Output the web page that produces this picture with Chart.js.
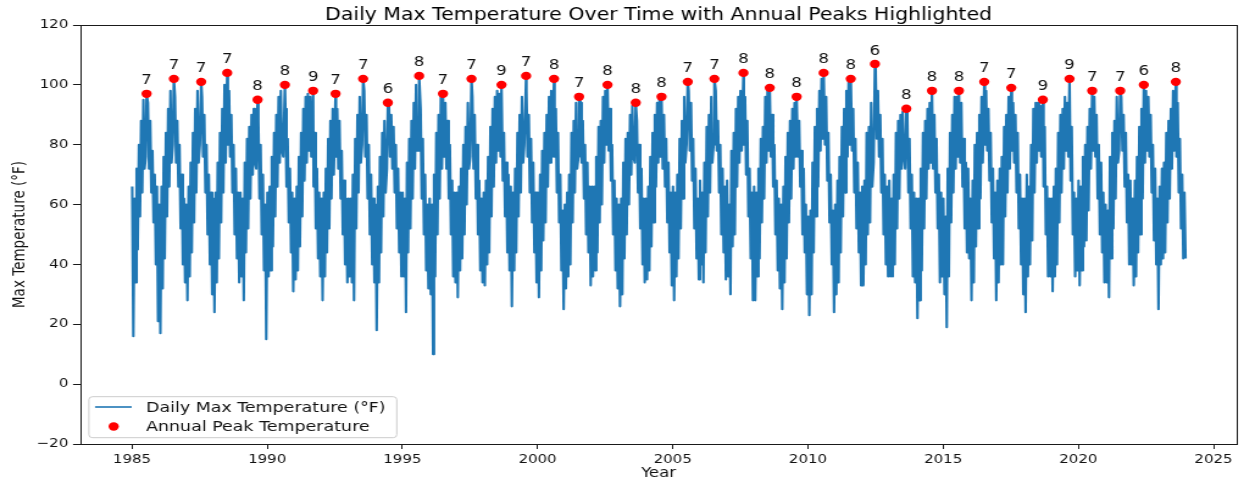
<!DOCTYPE html>
<html>
<head>
<meta charset="utf-8">
<title>Daily Max Temperature</title>
<script src="https://cdn.jsdelivr.net/npm/chart.js@4.4.1/dist/chart.umd.min.js"></script>
<style>
  html, body { margin: 0; padding: 0; background: #ffffff; overflow: hidden; }
  /* the figure is laid out on a narrower canvas and widened horizontally */
  #wrap { width: 1020px; height: 484px; transform: scaleX(1.2196); transform-origin: 0 0; }
  canvas { display: block; }
</style>
</head>
<body>
<div id="wrap"><canvas id="chart" width="1020" height="484"></canvas></div>
<script>
// ---- data -------------------------------------------------------------
const years = [1985, 1986, 1987, 1988, 1989, 1990, 1991, 1992, 1993, 1994,
               1995, 1996, 1997, 1998, 1999, 2000, 2001, 2002, 2003, 2004,
               2005, 2006, 2007, 2008, 2009, 2010, 2011, 2012, 2013, 2014,
               2015, 2016, 2017, 2018, 2019, 2020, 2021, 2022, 2023];

// highest daily max within each month (Jan..Dec), °F
const monthlyHigh = [
  [66, 62, 72, 80, 88, 95, 97, 94, 88, 78, 70, 66],
  [60, 66, 76, 84, 92, 98, 102, 96, 88, 80, 70, 62],
  [60, 66, 74, 84, 92, 98, 101, 96, 90, 80, 70, 64],
  [62, 64, 74, 84, 92, 100, 104, 98, 90, 80, 72, 64],
  [64, 62, 74, 82, 86, 90, 92, 95, 88, 80, 70, 60],
  [64, 66, 76, 84, 90, 96, 98, 100, 92, 82, 72, 64],
  [62, 66, 76, 84, 92, 96, 97, 96, 98, 84, 72, 64],
  [62, 64, 72, 82, 88, 92, 97, 92, 88, 78, 68, 62],
  [62, 62, 70, 82, 90, 96, 102, 98, 90, 80, 70, 62],
  [60, 66, 76, 84, 88, 94, 93, 90, 86, 80, 72, 64],
  [64, 62, 74, 82, 88, 94, 100, 103, 92, 82, 70, 60],
  [62, 60, 70, 84, 90, 96, 97, 94, 88, 80, 68, 64],
  [64, 66, 72, 80, 86, 94, 102, 96, 90, 80, 68, 62],
  [64, 68, 76, 86, 92, 96, 98, 97, 100, 84, 74, 70],
  [66, 64, 72, 84, 90, 96, 103, 98, 90, 82, 74, 64],
  [64, 70, 78, 84, 90, 96, 98, 102, 92, 84, 70, 58],
  [60, 64, 70, 84, 88, 94, 96, 94, 88, 80, 74, 66],
  [66, 66, 76, 86, 88, 96, 98, 100, 92, 80, 68, 62],
  [60, 62, 74, 82, 84, 90, 93, 94, 88, 80, 72, 62],
  [62, 66, 76, 84, 90, 94, 95, 96, 90, 82, 74, 64],
  [66, 64, 70, 82, 88, 96, 101, 98, 94, 82, 72, 62],
  [68, 64, 74, 86, 90, 96, 102, 98, 88, 80, 72, 66],
  [68, 60, 78, 84, 92, 96, 98, 104, 96, 88, 72, 64],
  [66, 64, 72, 82, 86, 96, 98, 99, 90, 80, 68, 62],
  [60, 66, 76, 84, 88, 92, 94, 96, 88, 78, 72, 60],
  [56, 58, 74, 86, 92, 98, 102, 104, 96, 84, 70, 58],
  [60, 68, 76, 86, 92, 98, 101, 102, 92, 82, 74, 64],
  [66, 68, 84, 86, 94, 107, 104, 98, 90, 82, 70, 66],
  [68, 62, 70, 84, 88, 90, 91, 92, 90, 82, 70, 64],
  [62, 62, 72, 84, 88, 92, 94, 98, 90, 82, 70, 64],
  [62, 56, 72, 84, 90, 96, 96, 98, 94, 82, 74, 72],
  [62, 68, 80, 84, 90, 96, 101, 98, 92, 84, 72, 64],
  [68, 72, 76, 86, 90, 96, 99, 94, 90, 84, 70, 62],
  [62, 70, 66, 80, 92, 94, 94, 93, 95, 86, 66, 62],
  [62, 66, 72, 84, 90, 92, 96, 94, 102, 86, 64, 62],
  [68, 66, 76, 80, 86, 92, 98, 96, 90, 80, 74, 64],
  [60, 58, 76, 84, 88, 96, 98, 96, 90, 84, 70, 68],
  [62, 68, 76, 86, 92, 100, 98, 96, 90, 80, 72, 62],
  [66, 72, 74, 84, 88, 92, 98, 101, 94, 82, 70, 64]
];

// lowest daily max within each month (Jan..Dec), °F
const monthlyLow = [
  [16, 34, 45, 56, 64, 72, 76, 72, 64, 54, 40, 21],
  [17, 32, 42, 56, 66, 74, 80, 74, 66, 52, 40, 34],
  [28, 36, 44, 54, 64, 74, 80, 76, 64, 50, 40, 30],
  [24, 34, 42, 54, 64, 74, 80, 76, 64, 50, 42, 34],
  [36, 28, 44, 52, 62, 70, 74, 72, 62, 50, 38, 15],
  [36, 38, 46, 56, 66, 74, 78, 76, 66, 54, 44, 31],
  [35, 38, 46, 56, 68, 74, 78, 76, 66, 52, 42, 36],
  [28, 36, 44, 52, 62, 70, 76, 72, 62, 50, 40, 34],
  [36, 34, 28, 52, 64, 74, 80, 76, 62, 50, 40, 34],
  [18, 34, 44, 56, 64, 72, 76, 72, 64, 52, 44, 36],
  [36, 24, 44, 52, 62, 72, 78, 78, 62, 50, 38, 32],
  [30, 10, 36, 50, 62, 72, 76, 72, 62, 50, 36, 34],
  [29, 38, 42, 50, 60, 72, 76, 72, 62, 50, 38, 34],
  [33, 40, 44, 56, 66, 74, 78, 76, 68, 56, 44, 38],
  [26, 38, 44, 56, 64, 74, 80, 76, 64, 54, 44, 34],
  [29, 38, 48, 54, 66, 74, 76, 76, 64, 54, 38, 25],
  [32, 36, 40, 54, 64, 72, 76, 74, 62, 50, 44, 33],
  [36, 38, 44, 54, 60, 74, 80, 78, 68, 50, 38, 32],
  [26, 30, 42, 50, 60, 70, 76, 74, 64, 52, 40, 34],
  [35, 38, 46, 54, 66, 74, 76, 72, 66, 54, 44, 33],
  [28, 36, 42, 52, 62, 74, 80, 78, 68, 52, 42, 35],
  [40, 34, 44, 56, 64, 74, 80, 78, 64, 50, 44, 35],
  [36, 30, 46, 50, 66, 74, 78, 80, 70, 56, 42, 28],
  [28, 36, 42, 54, 62, 74, 78, 76, 66, 50, 38, 32],
  [25, 34, 42, 54, 62, 72, 76, 76, 66, 50, 44, 30],
  [23, 30, 44, 56, 66, 78, 82, 80, 68, 54, 40, 24],
  [30, 34, 44, 56, 64, 76, 80, 78, 64, 52, 44, 33],
  [33, 40, 50, 54, 66, 74, 82, 76, 64, 50, 40, 36],
  [36, 36, 40, 52, 62, 72, 76, 72, 64, 52, 36, 34],
  [22, 28, 38, 52, 62, 72, 74, 72, 64, 52, 34, 36],
  [30, 19, 36, 54, 64, 72, 76, 74, 66, 52, 44, 42],
  [28, 34, 46, 52, 62, 74, 80, 78, 68, 54, 42, 28],
  [34, 40, 40, 56, 64, 72, 78, 74, 64, 52, 40, 30],
  [24, 36, 40, 48, 64, 74, 78, 76, 66, 50, 36, 36],
  [31, 36, 40, 54, 64, 72, 78, 76, 68, 50, 36, 38],
  [33, 38, 46, 48, 58, 72, 78, 76, 62, 50, 44, 34],
  [34, 29, 42, 52, 62, 74, 78, 78, 66, 54, 40, 40],
  [33, 36, 44, 50, 62, 74, 78, 76, 64, 48, 40, 25],
  [40, 42, 44, 54, 62, 72, 78, 76, 64, 52, 42, 42]
];

// hottest day of each year
const peakTemp  = [97, 102, 101, 104, 95, 100, 98, 97, 102, 94,
                   103, 97, 102, 100, 103, 102, 96, 100, 94, 96,
                   101, 102, 104, 99, 96, 104, 102, 107, 92, 98,
                   98, 101, 99, 95, 102, 98, 98, 100, 101];
const peakMonth = [7, 7, 7, 7, 8, 8, 9, 7, 7, 6,
                   8, 7, 7, 9, 7, 8, 7, 8, 8, 8,
                   7, 7, 8, 8, 8, 8, 8, 6, 8, 8,
                   8, 7, 7, 9, 9, 7, 7, 6, 8];
const peakDay   = [17, 20, 24, 10, 24, 28, 13, 13, 20, 19,
                   15, 3, 23, 1, 30, 11, 15, 3, 19, 2,
                   22, 17, 13, 3, 1, 1, 2, 24, 22, 3,
                   2, 10, 10, 9, 4, 7, 20, 4, 10];

const xTicks = [1985, 1990, 1995, 2000, 2005, 2010, 2015, 2020, 2025];
const yTicks = [-20, 0, 20, 40, 60, 80, 100, 120];

// ---- series construction ----------------------------------------------
const daysBefore = [0, 31, 59, 90, 120, 151, 181, 212, 243, 273, 304, 334];
function decimalYear(y, m, d) { return y + (daysBefore[m - 1] + d - 1) / 365; }

const dailyPoints = [];
years.forEach((yr, i) => {
  for (let m = 1; m <= 12; m++) {
    const isPeak = m === peakMonth[i];
    const hiDay = isPeak ? peakDay[i] : 4;
    const loDay = isPeak && peakDay[i] > 14 ? 6 : 19;
    const pair = [
      { x: decimalYear(yr, m, hiDay), y: isPeak ? peakTemp[i] : monthlyHigh[i][m - 1] },
      { x: decimalYear(yr, m, loDay), y: monthlyLow[i][m - 1] }
    ];
    pair.sort((a, b) => a.x - b.x);
    dailyPoints.push(pair[0], pair[1]);
  }
});

const peakPoints = years.map((yr, i) => ({ x: decimalYear(yr, peakMonth[i], peakDay[i]), y: peakTemp[i] }));

// ---- drawing helpers ---------------------------------------------------
const INK = '#111111';
const SPINE = '#1a1a1a';
Chart.defaults.font.family = "'DejaVu Sans', sans-serif";
Chart.defaults.color = INK;

const spinesPlugin = {
  id: 'spines',
  afterDatasetsDraw(chart) {
    const { ctx, chartArea: a } = chart;
    ctx.save();
    ctx.strokeStyle = SPINE;
    ctx.lineWidth = 1;
    ctx.strokeRect(Math.round(a.left) + 0.5, Math.round(a.top) + 0.5,
                   Math.round(a.right - a.left) - 1, Math.round(a.bottom - a.top));
    ctx.restore();
  }
};

const peakLabelPlugin = {
  id: 'peakLabels',
  afterDatasetsDraw(chart) {
    const meta = chart.getDatasetMeta(1);
    const ctx = chart.ctx;
    ctx.save();
    ctx.font = "13.7px 'DejaVu Sans'";
    ctx.fillStyle = INK;
    ctx.textAlign = 'center';
    ctx.textBaseline = 'alphabetic';
    meta.data.forEach((pt, i) => ctx.fillText(String(peakMonth[i]), pt.x, pt.y - 9.4));
    ctx.restore();
  }
};

const headingPlugin = {
  id: 'heading',
  afterDraw(chart) {
    const { ctx, chartArea: a } = chart;
    ctx.save();
    ctx.font = "16.8px 'DejaVu Sans'";
    ctx.fillStyle = '#000000';
    ctx.textAlign = 'center';
    ctx.textBaseline = 'alphabetic';
    ctx.fillText('Daily Max Temperature Over Time with Annual Peaks Highlighted', (a.left + a.right) / 2, 19.8);
    ctx.restore();
  }
};

function roundedRect(ctx, x, y, w, h, r) {
  ctx.beginPath();
  ctx.moveTo(x + r, y);
  ctx.arcTo(x + w, y, x + w, y + h, r);
  ctx.arcTo(x + w, y + h, x, y + h, r);
  ctx.arcTo(x, y + h, x, y, r);
  ctx.arcTo(x, y, x + w, y, r);
  ctx.closePath();
}

const boxLegendPlugin = {
  id: 'boxLegend',
  afterDraw(chart) {
    const ctx = chart.ctx;
    const line = chart.data.datasets[0];
    const dots = chart.data.datasets[1];
    ctx.save();
    roundedRect(ctx, 72.9, 396.7, 252.4, 41, 3);
    ctx.fillStyle = 'rgba(255,255,255,0.8)';
    ctx.fill();
    ctx.strokeStyle = '#cccccc';
    ctx.lineWidth = 1;
    ctx.stroke();

    ctx.strokeStyle = line.borderColor;
    ctx.lineWidth = 1.6;
    ctx.beginPath();
    ctx.moveTo(77.9, 407);
    ctx.lineTo(108, 407);
    ctx.stroke();

    ctx.fillStyle = dots.backgroundColor;
    ctx.beginPath();
    ctx.arc(93.2, 426.5, dots.pointRadius, 0, Math.PI * 2);
    ctx.fill();

    ctx.fillStyle = INK;
    ctx.font = "14.3px 'DejaVu Sans'";
    ctx.textAlign = 'left';
    ctx.textBaseline = 'alphabetic';
    ctx.fillText(line.label, 119.7, 411.7);
    ctx.fillText(dots.label, 119.7, 430.7);
    ctx.restore();
  }
};

new Chart(document.getElementById('chart'), {
  type: 'scatter',
  data: {
    datasets: [
      {
        type: 'line',
        label: 'Daily Max Temperature (°F)',
        data: dailyPoints,
        borderColor: '#1f77b4',
        borderWidth: 2.1,
        borderJoinStyle: 'round',
        pointRadius: 0,
        tension: 0,
        order: 2
      },
      {
        type: 'scatter',
        label: 'Annual Peak Temperature',
        data: peakPoints,
        backgroundColor: '#ff0000',
        borderWidth: 0,
        pointRadius: 4.2,
        order: 1
      }
    ]
  },
  options: {
    responsive: false,
    animation: false,
    devicePixelRatio: 1,
    events: [],
    layout: { padding: { top: 25, right: 5.7, left: 0, bottom: 0 } },
    plugins: {
      legend: { display: false },
      tooltip: { enabled: false },
      title: { display: false }
    },
    scales: {
      x: {
        type: 'linear',
        min: 1983.077,
        max: 2025.87,
        afterBuildTicks(scale) { scale.ticks = xTicks.map(v => ({ value: v })); },
        afterFit(scale) { scale.height = 40; },
        ticks: { callback: v => String(v), font: { size: 12.3 }, color: INK, padding: 3, maxRotation: 0, autoSkip: false },
        grid: { display: true, drawOnChartArea: false, tickLength: 5, tickColor: SPINE, tickWidth: 1 },
        border: { display: false },
        title: { display: true, text: 'Year', font: { size: 13.5 }, color: INK, padding: { top: 0, bottom: 2.2 } }
      },
      y: {
        type: 'linear',
        min: -20,
        max: 120,
        afterBuildTicks(scale) { scale.ticks = yTicks.map(v => ({ value: v })); },
        afterFit(scale) { scale.width = 65.6; },
        ticks: { callback: v => String(v).replace('-', '\u2212'), font: { size: 12.3 }, color: INK, padding: 3.9 },
        grid: { display: true, drawOnChartArea: false, tickLength: 5.7, tickColor: SPINE, tickWidth: 1 },
        border: { display: false },
        title: { display: true, text: 'Max Temperature (°F)', font: { size: 13.5 }, color: INK, padding: { top: 8.3, bottom: 0 } }
      }
    }
  },
  plugins: [spinesPlugin, peakLabelPlugin, headingPlugin, boxLegendPlugin]
});
</script>
</body>
</html>
